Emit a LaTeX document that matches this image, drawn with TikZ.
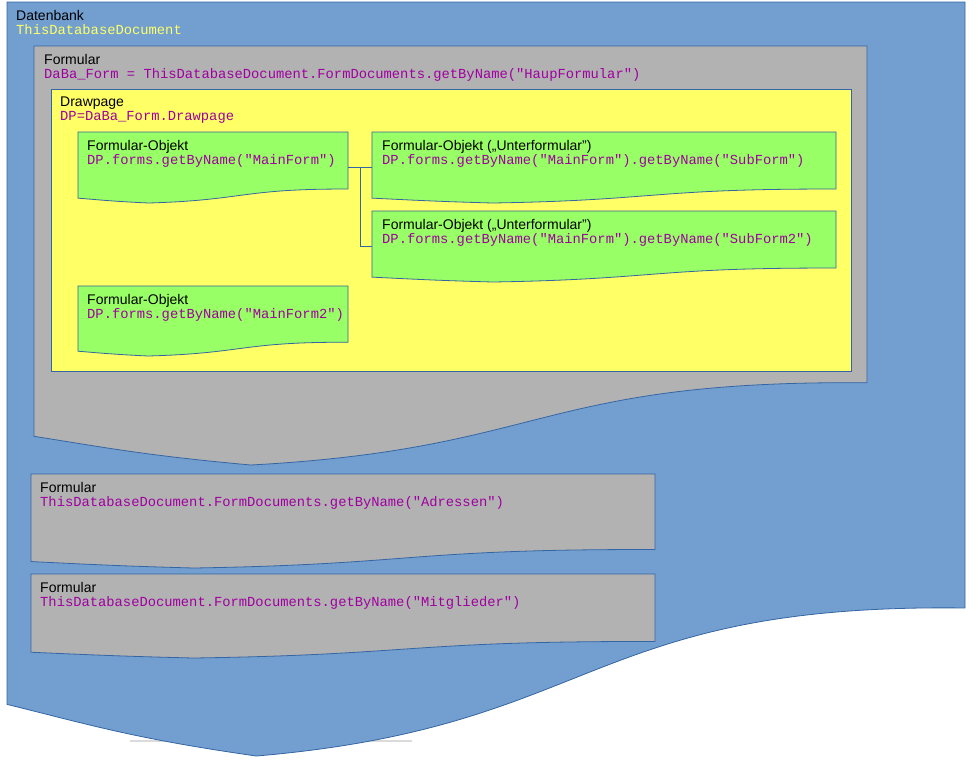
\documentclass[tikz,border=0pt]{standalone}
\usepackage{fontspec}
\setmainfont{Liberation Sans}
\setmonofont{Liberation Mono}
\usepackage{tikz}
\usetikzlibrary{calc}
\definecolor{db_blue}{RGB}{114, 159, 207}
\definecolor{db_line}{RGB}{52, 101, 164}
\definecolor{db_gray}{RGB}{178, 178, 178}
\definecolor{db_yellow}{RGB}{255, 255, 102}
\definecolor{db_green}{RGB}{153, 255, 102}
\definecolor{db_code}{RGB}{160, 0, 160}
\definecolor{db_name}{RGB}{255, 255, 102}
\newcommand{\code}[1]{{\fontsize{13.8}{14}\ttfamily\color{db_code}#1}}
% document outline (flowchart "document") over the area of a node
\newcommand{\docshape}[2]{%
  \filldraw[#2] let \p1=(#1.north west), \p2=(#1.south east),
      \n1={(\x2)-(\x1)}, \n2={(\y2)-(\y1)} in
    (\x1,\y1) -- (\x2,\y1) -- (\x2,{\y1+0.8037*\n2})
    .. controls ({\x1+0.6042*\n1},{\y1+0.7972*\n2})
            and ({\x1+0.6176*\n1},{\y1+0.9616*\n2}) .. ({\x1+0.2602*\n1},\y2)
    .. controls ({\x1+0.1324*\n1},{\y1+0.9769*\n2})
            and ({\x1+0.0856*\n1},{\y1+0.9583*\n2}) .. (\x1,{\y1+0.9315*\n2})
    -- cycle;}

\begin{document}
\begin{tikzpicture}[x=1pt, y=-1pt,
        area/.style={rectangle, inner sep=0pt, outer sep=0pt, anchor=north west},
        txt/.style={anchor=north west, inner sep=0pt, align=left,
                    font=\fontsize{14}{14}\selectfont},
        bluebox/.style={fill=db_blue, draw=db_line, line width=0.8pt},
        graybox/.style={fill=db_gray, draw=db_line, line width=0.8pt},
        greenbox/.style={fill=db_green, draw=db_line, line width=0.8pt},
        link/.style={draw=db_line, line width=0.8pt},
      ]
        \useasboundingbox (0,0) rectangle (980,764);

        \draw[black!14, line width=1.5pt] (130,741) -- (412,741);

        % Datenbank
        \node[area, minimum width=958pt, minimum height=754pt] (db) at (7,2) {};
        \docshape{db}{bluebox}
        \node[txt] (db-t) at ([shift={(9,8)}]db.north west)
          {Datenbank\\{\fontsize{13.8}{14}\ttfamily\color{db_name}ThisDatabaseDocument}};

        % Formular HaupFormular
        \node[area, minimum width=833pt, minimum height=419pt] (haupt) at (34,46) {};
        \docshape{haupt}{graybox}
        \node[txt] (haupt-t) at ([shift={(10,8)}]haupt.north west)
          {Formular\\\code{DaBa\_Form = ThisDatabaseDocument.FormDocuments.getByName("HaupFormular")}};

        % Drawpage
        \node[area, minimum width=800pt, minimum height=282pt,
              fill=db_yellow, draw=db_line, line width=0.8pt] (dp) at (51,89) {};
        \node[txt] (dp-t) at ([shift={(9,8)}]dp.north west)
          {Drawpage\\\code{DP=DaBa\_Form.Drawpage}};

        % Formular-Objekte
        \node[area, minimum width=270pt, minimum height=71pt] (main) at (78,132) {};
        \docshape{main}{greenbox}
        \node[txt] (main-t) at ([shift={(9,8)}]main.north west)
          {Formular-Objekt\\\code{DP.forms.getByName("MainForm")}};

        \node[area, minimum width=464pt, minimum height=71pt] (sub1) at (372,132) {};
        \docshape{sub1}{greenbox}
        \node[txt] (sub1-t) at ([shift={(10,8)}]sub1.north west)
          {Formular-Objekt („Unterformular”)\\\code{DP.forms.getByName("MainForm").getByName("SubForm")}};

        \node[area, minimum width=464pt, minimum height=71pt] (sub2) at (372,211) {};
        \docshape{sub2}{greenbox}
        \node[txt] (sub2-t) at ([shift={(10,8)}]sub2.north west)
          {Formular-Objekt („Unterformular”)\\\code{DP.forms.getByName("MainForm").getByName("SubForm2")}};

        \node[area, minimum width=270pt, minimum height=70pt] (main2) at (78,286) {};
        \docshape{main2}{greenbox}
        \node[txt] (main2-t) at ([shift={(9,8)}]main2.north west)
          {Formular-Objekt\\\code{DP.forms.getByName("MainForm2")}};

        \draw[link] (main.east) -- (sub1.west);
        \draw[link] ($(main.east)!0.5!(sub1.west)$) |- (sub2.west);

        % weitere Formulare
        \node[area, minimum width=624pt, minimum height=94pt] (adr) at (31,474) {};
        \docshape{adr}{graybox}
        \node[txt] (adr-t) at ([shift={(9,8)}]adr.north west)
          {Formular\\\code{ThisDatabaseDocument.FormDocuments.getByName("Adressen")}};

        \node[area, minimum width=624pt, minimum height=84pt] (mit) at (31,574) {};
        \docshape{mit}{graybox}
        \node[txt] (mit-t) at ([shift={(9,8)}]mit.north west)
          {Formular\\\code{ThisDatabaseDocument.FormDocuments.getByName("Mitglieder")}};
      \end{tikzpicture}
\end{document}
